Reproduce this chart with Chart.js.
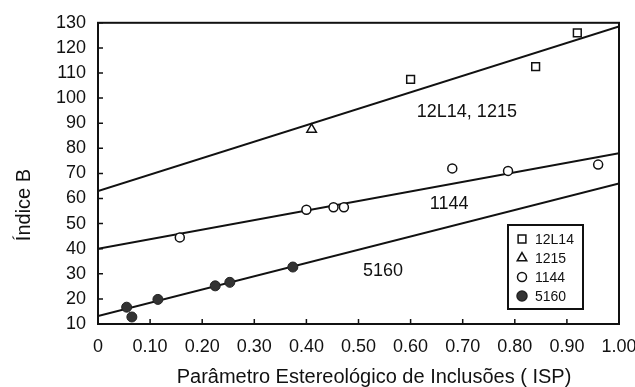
<!DOCTYPE html>
<html>
<head>
<meta charset="utf-8">
<script src="https://cdn.jsdelivr.net/npm/chart.js@4.4.0/dist/chart.umd.min.js"></script>
<style>
  html, body { margin: 0; padding: 0; background: #fff; }
  #wrap { width: 635px; height: 387px; }
</style>
</head>
<body>
<div id="wrap"><canvas id="chartIsp"></canvas></div>
<script>
// measured points, ISP vs Índice B
var isp12L14 = [0.60, 0.84, 0.92];
var b12L14 = [107.5, 112.5, 126];
var isp1215 = [0.41];
var b1215 = [87.5];
var isp1144 = [0.157, 0.40, 0.452, 0.472, 0.68, 0.787, 0.96];
var b1144 = [44.5, 55.5, 56.5, 56.5, 72, 71, 73.5];
var isp5160 = [0.055, 0.065, 0.115, 0.225, 0.253, 0.374];
var b5160 = [16.7, 12.8, 19.8, 25.2, 26.6, 32.7];

// fitted lines: value at ISP = 0 and ISP = 1
var lineEnds = [0, 1];
var fit12L14 = [63, 128.5];
var fit1144 = [40, 78];
var fit5160 = [13.2, 66];

// in-plot labels
var noteText = ['12L14, 1215', '1144', '5160'];
var noteX = [0.708, 0.674, 0.547];
var noteY = [94.5, 57.8, 31.3];

var yTicks = [10, 20, 30, 40, 50, 60, 70, 80, 90, 100, 110, 120, 130];
var xTitle = 'Parâmetro Estereológico de Inclusões ( ISP)';
var yTitle = 'Índice B';

function pts(xs, ys) {
  var out = [];
  for (var i = 0; i < xs.length; i++) out.push({x: xs[i], y: ys[i]});
  return out;
}

function fitLine(ys) {
  return {
    type: 'line',
    data: pts(lineEnds, ys),
    borderColor: '#111',
    borderWidth: 2,
    pointRadius: 0,
    fill: false,
    legendSkip: true
  };
}

var FONT = 'Liberation Sans, Arial, sans-serif';

var overlay = {
  id: 'overlay',
  afterDraw: function(chart) {
    var ctx = chart.ctx;
    var a = chart.chartArea;
    var xs = chart.scales.x, ys = chart.scales.y;
    ctx.save();

    // frame on top and right
    ctx.strokeStyle = '#111';
    ctx.lineWidth = 2;
    ctx.strokeRect(a.left, a.top, a.right - a.left, a.bottom - a.top);

    // short inside ticks
    ctx.lineWidth = 1.5;
    ctx.beginPath();
    xs.ticks.forEach(function(t) {
      var px = xs.getPixelForValue(t.value);
      ctx.moveTo(px, a.bottom);
      ctx.lineTo(px, a.bottom - 5);
    });
    ys.ticks.forEach(function(t) {
      var py = ys.getPixelForValue(t.value);
      ctx.moveTo(a.left, py);
      ctx.lineTo(a.left + 5, py);
    });
    ctx.stroke();

    // labels next to the fitted lines
    ctx.fillStyle = '#111';
    ctx.font = '18px ' + FONT;
    ctx.textAlign = 'center';
    ctx.textBaseline = 'middle';
    for (var i = 0; i < noteText.length; i++) {
      ctx.fillText(noteText[i], xs.getPixelForValue(noteX[i]), ys.getPixelForValue(noteY[i]));
    }

    // axis titles
    ctx.font = '20px ' + FONT;
    ctx.fillText(xTitle, 374, 377);
    ctx.save();
    ctx.translate(24, 205);
    ctx.rotate(-Math.PI / 2);
    ctx.fillText(yTitle, 0, 0);
    ctx.restore();

    // legend box
    var lx = 508, ly = 225, lw = 75, lh = 84;
    ctx.fillStyle = '#fff';
    ctx.fillRect(lx, ly, lw, lh);
    ctx.strokeStyle = '#111';
    ctx.lineWidth = 2;
    ctx.strokeRect(lx, ly, lw, lh);
    ctx.font = '14px ' + FONT;
    ctx.textAlign = 'left';
    var items = chart.data.datasets.filter(function(d) { return !d.legendSkip; });
    items.forEach(function(d, k) {
      var cy = ly + 14 + k * 19;
      ctx.fillStyle = d.backgroundColor;
      ctx.strokeStyle = d.borderColor;
      ctx.lineWidth = 1.5;
      Chart.helpers.drawPoint(ctx, {pointStyle: d.pointStyle, radius: d.pointRadius, rotation: 0, borderWidth: 1.5}, lx + 14, cy);
      ctx.fillStyle = '#111';
      ctx.fillText(d.label, lx + 27, cy + 1);
    });
    ctx.restore();
  }
};

new Chart(document.getElementById('chartIsp'), {
  type: 'scatter',
  data: {
    datasets: [
      { label: '12L14', data: pts(isp12L14, b12L14), pointStyle: 'rect', pointRadius: 5.5,
        backgroundColor: '#fff', borderColor: '#111', borderWidth: 1.5 },
      { label: '1215', data: pts(isp1215, b1215), pointStyle: 'triangle', pointRadius: 5.5,
        backgroundColor: '#fff', borderColor: '#111', borderWidth: 1.5 },
      { label: '1144', data: pts(isp1144, b1144), pointStyle: 'circle', pointRadius: 4.5,
        backgroundColor: '#fff', borderColor: '#111', borderWidth: 1.5 },
      { label: '5160', data: pts(isp5160, b5160), pointStyle: 'circle', pointRadius: 5,
        backgroundColor: '#333', borderColor: '#222', borderWidth: 1 },
      fitLine(fit12L14),
      fitLine(fit1144),
      fitLine(fit5160)
    ]
  },
  options: {
    responsive: true,
    maintainAspectRatio: false,
    animation: false,
    layout: { padding: { left: 0, right: 16, top: 20, bottom: 0 } },
    plugins: { legend: { display: false }, tooltip: { enabled: false } },
    scales: {
      x: {
        type: 'linear', min: 0, max: 1,
        afterFit: function(s) { s.height = 63; s.paddingLeft = 0; s.paddingRight = 0; },
        border: { display: true, color: '#111', width: 2 },
        grid: { display: false, drawTicks: false },
        ticks: {
          stepSize: 0.1, padding: 12, color: '#111',
          font: { family: FONT, size: 18 },
          callback: function(v) { return v === 0 ? '0' : v.toFixed(2); }
        }
      },
      y: {
        type: 'linear', min: 10, max: 130,
        afterFit: function(s) { s.width = 98; },
        afterBuildTicks: function(s) { s.ticks = yTicks.map(function(v) { return {value: v}; }); },
        border: { display: true, color: '#111', width: 2 },
        grid: { display: false, drawTicks: false },
        ticks: { padding: 12, color: '#111', font: { family: FONT, size: 18 } }
      }
    }
  },
  plugins: [overlay]
});
</script>
</body>
</html>
